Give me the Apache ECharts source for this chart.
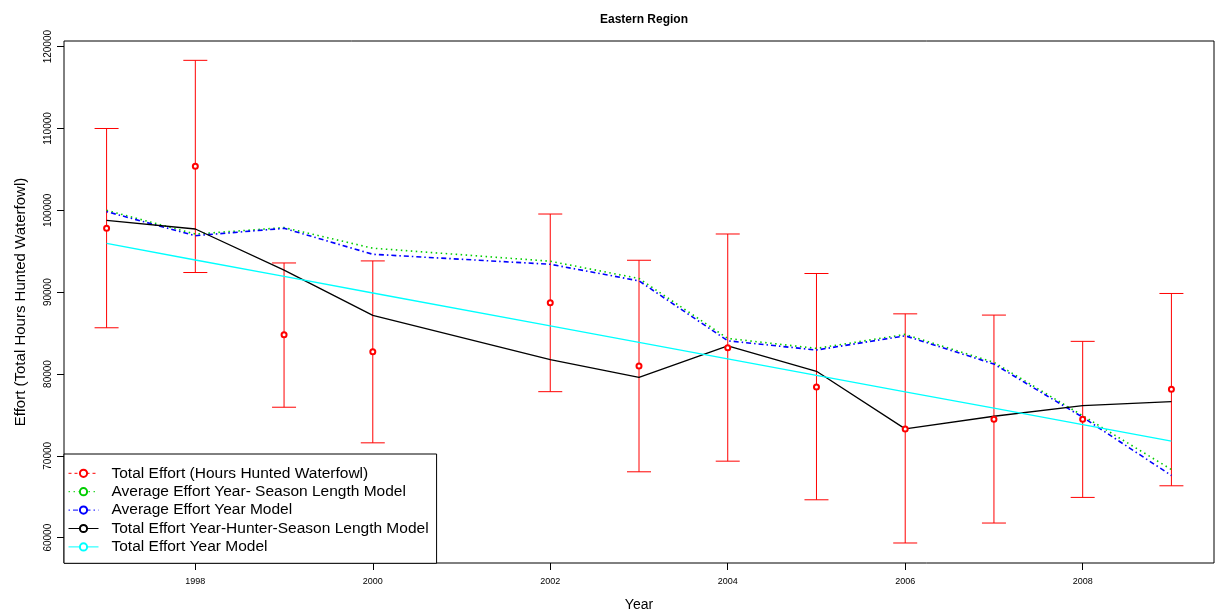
<!DOCTYPE html>
<html>
<head>
<meta charset="utf-8">
<script src="https://cdn.jsdelivr.net/npm/echarts@6/dist/echarts.min.js"></script>
<style>
html,body{margin:0;padding:0;background:#fff;overflow:hidden;}
#chart{width:1215px;height:612px;}
</style>
</head>
<body>
<div id="chart"></div>
<script>
// ---- data ----
const years = [1997, 1998, 1999, 2000, 2002, 2003, 2004, 2005, 2006, 2007, 2008, 2009];
const totalEffort = [97800, 105400, 84790, 82720, 88700, 80980, 83210, 78410, 73290, 74480, 74480, 78130];
const effortLower = [85650, 92400, 75940, 71590, 77840, 68050, 69350, 64630, 59350, 61790, 64920, 66340];
const effortUpper = [110000, 118330, 93570, 93820, 99550, 93900, 97110, 92280, 87350, 87200, 83990, 89840];
const avgYearSeason = [100000, 97100, 97890, 95370, 93780, 91670, 84350, 83130, 84840, 81430, 74910, 68330];
const avgYear = [99840, 96900, 97800, 94630, 93410, 91380, 84060, 82930, 84670, 81220, 74720, 67600];
const totalYearHunterSeason = [98780, 97720, 92700, 87160, 81750, 79600, 83450, 80330, 73290, 74840, 76130, 76620];
const totalYear = [95950, 93930, 91920, 89900, 85880, 83870, 81860, 79840, 77830, 75820, 73810, 71790];
const xTicks = [1998, 2000, 2002, 2004, 2006, 2008];
const yTicks = [60000, 70000, 80000, 90000, 100000, 110000, 120000];
const seriesNames = [
  'Total Effort (Hours Hunted Waterfowl)',
  'Average Effort Year- Season Length Model',
  'Average Effort Year Model',
  'Total Effort Year-Hunter-Season Length Model',
  'Total Effort Year Model'
];
const titleText = 'Eastern Region';
const xName = 'Year';
const yName = 'Effort (Total Hours Hunted Waterfowl)';

const FONT = 'Liberation Sans, Arial, Helvetica, sans-serif';
const pairs = arr => years.map((y, i) => [y, arr[i]]);
const plain = v => String(v);

const chart = echarts.init(document.getElementById('chart'), null, {renderer: 'canvas'});
chart.setOption({
  animation: false,
  backgroundColor: '#fff',
  title: {
    text: titleText, left: 639, top: 9, textAlign: 'center',
    textStyle: {fontFamily: FONT, fontSize: 12, fontWeight: 'bold', color: '#000'}
  },
  grid: {left: 64, right: 1, top: 41, bottom: 49, show: true, borderColor: '#000', borderWidth: 1,
         containLabel: false, outerBoundsMode: 'none'},
  xAxis: {
    type: 'value', min: 1996.52, max: 2009.48,
    name: xName, nameLocation: 'middle', nameGap: 35,
    nameTextStyle: {fontFamily: FONT, fontSize: 14, color: '#000'},
    axisLine: {show: false},
    axisTick: {show: true, inside: false, length: 7, lineStyle: {color: '#000'}, customValues: xTicks},
    axisLabel: {fontFamily: FONT, fontSize: 9, color: '#000', margin: 14, formatter: plain, customValues: xTicks},
    splitLine: {show: false}
  },
  yAxis: {
    type: 'value', min: 56906, max: 120692,
    name: yName, nameLocation: 'middle', nameGap: 36, nameRotate: 90,
    nameTextStyle: {fontFamily: FONT, fontSize: 15, color: '#000'},
    axisLine: {show: false},
    axisTick: {show: true, inside: false, length: 7, lineStyle: {color: '#000'}, customValues: yTicks},
    axisLabel: {fontFamily: FONT, fontSize: 10, color: '#000', margin: 11, rotate: 90, formatter: plain, customValues: yTicks},
    splitLine: {show: false}
  },
  legend: {
    orient: 'vertical', left: 64, top: 454,
    backgroundColor: '#fff', borderColor: '#000', borderWidth: 1,
    padding: [11.3, 8, 8.4, 4], itemWidth: 30, itemHeight: 9, itemGap: 2.4,
    itemStyle: {borderWidth: 1},
    lineStyle: {width: 1},
    textStyle: {fontFamily: FONT, fontSize: 15.5, color: '#000', padding: [0, 0, 0, 8]},
    data: [
      {name: seriesNames[0], lineStyle: {opacity: 1, width: 1, type: [3, 3]}},
      {name: seriesNames[1]},
      {name: seriesNames[2]},
      {name: seriesNames[3]},
      {name: seriesNames[4]}
    ]
  },
  series: [
    {
      type: 'custom', name: 'errorbars', z: 1,
      renderItem: function (params, api) {
        const x = api.value(0);
        const lo = api.coord([x, api.value(1)]);
        const hi = api.coord([x, api.value(2)]);
        const w = 12;
        const st = {stroke: '#ff0000', lineWidth: 1};
        return {type: 'group', children: [
          {type: 'line', shape: {x1: lo[0], y1: lo[1], x2: hi[0], y2: hi[1]}, style: st},
          {type: 'line', shape: {x1: lo[0] - w, y1: lo[1], x2: lo[0] + w, y2: lo[1]}, style: st},
          {type: 'line', shape: {x1: hi[0] - w, y1: hi[1], x2: hi[0] + w, y2: hi[1]}, style: st}
        ]};
      },
      encode: {x: 0, y: [1, 2]},
      data: years.map((y, i) => [y, effortLower[i], effortUpper[i]])
    },
    {
      type: 'line', name: seriesNames[0], z: 3,
      symbol: 'emptyCircle', symbolSize: 5,
      itemStyle: {color: '#ff0000', borderWidth: 1},
      lineStyle: {color: '#ff0000', opacity: 0, type: [3, 3]},
      data: pairs(totalEffort)
    },
    {
      type: 'line', name: seriesNames[1], z: 2,
      symbol: 'emptyCircle', showSymbol: false,
      itemStyle: {color: '#00cd00'},
      lineStyle: {color: '#00cd00', width: 1.6, type: [1.5, 3.5]},
      data: pairs(avgYearSeason)
    },
    {
      type: 'line', name: seriesNames[2], z: 2,
      symbol: 'emptyCircle', showSymbol: false,
      itemStyle: {color: '#0000ff'},
      lineStyle: {color: '#0000ff', width: 1.6, type: [1.5, 3, 5, 3]},
      data: pairs(avgYear)
    },
    {
      type: 'line', name: seriesNames[3], z: 2,
      symbol: 'emptyCircle', showSymbol: false,
      itemStyle: {color: '#000000'},
      lineStyle: {color: '#000000', width: 1.3},
      data: pairs(totalYearHunterSeason)
    },
    {
      type: 'line', name: seriesNames[4], z: 2,
      symbol: 'emptyCircle', showSymbol: false,
      itemStyle: {color: '#00ffff'},
      lineStyle: {color: '#00ffff', width: 1.3},
      data: pairs(totalYear)
    }
  ]
});
</script>
</body>
</html>
